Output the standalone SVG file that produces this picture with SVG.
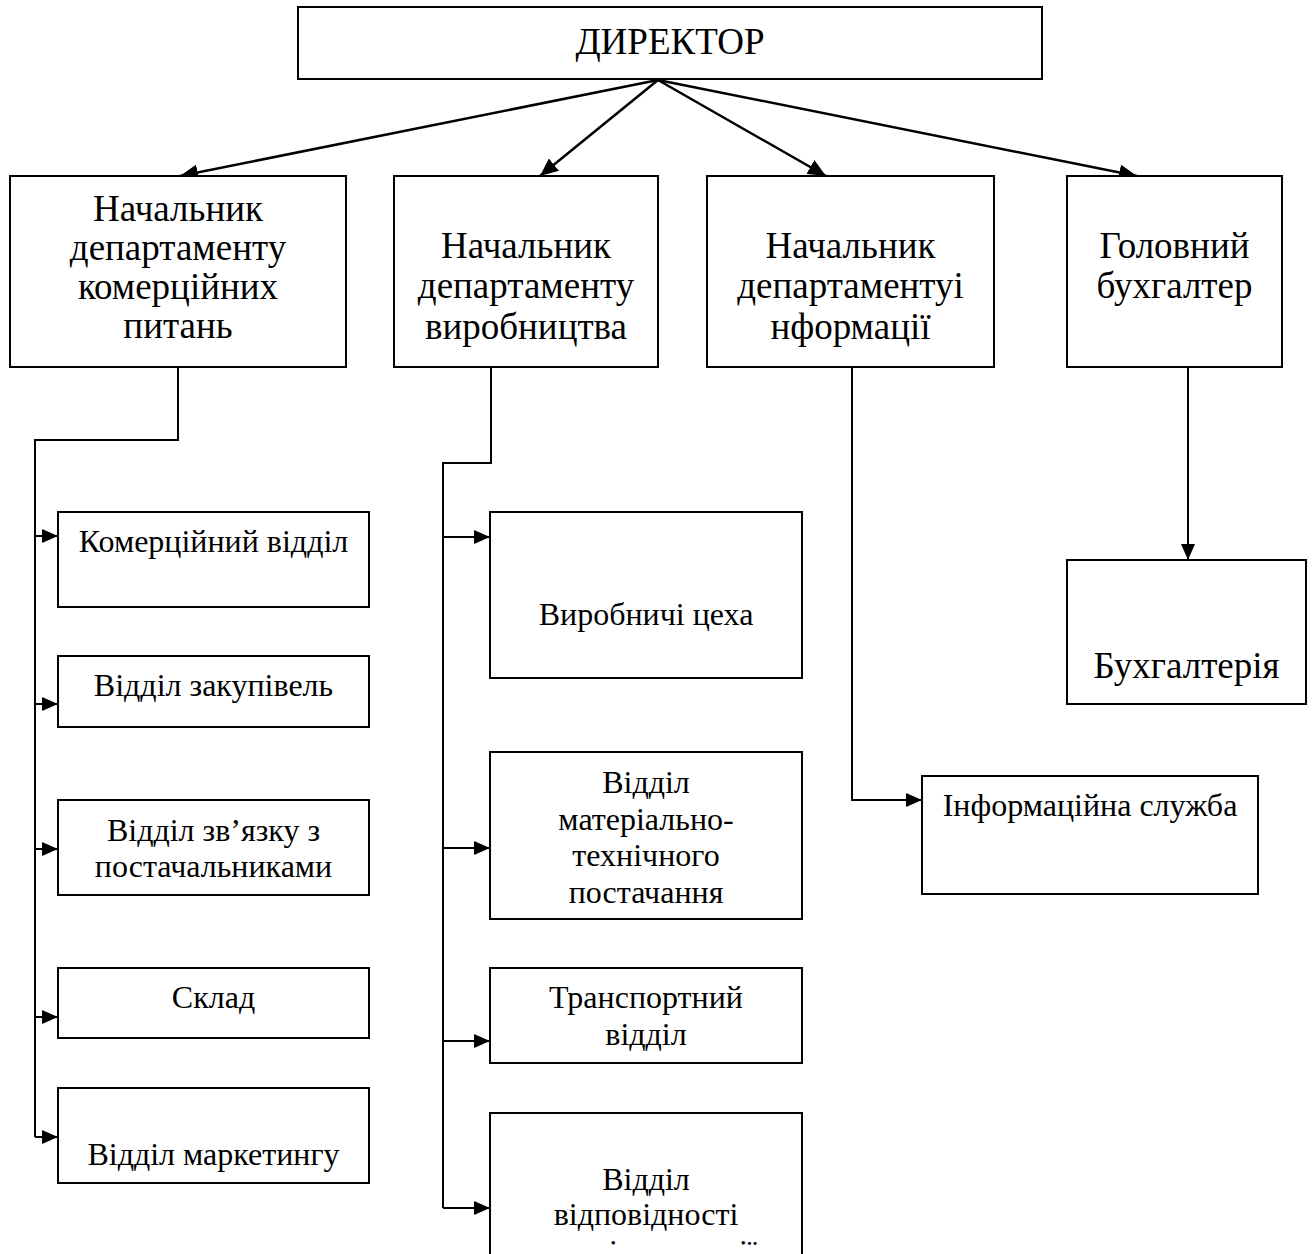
<svg xmlns="http://www.w3.org/2000/svg" width="1312" height="1254" viewBox="0 0 1312 1254">
<style>
.box{fill:#fff;stroke:#000;stroke-width:2}
.c{fill:none;stroke:#000;stroke-width:2}
.d{fill:none;stroke:#000;stroke-width:2.5}
text{font-family:"Liberation Serif","Times New Roman",serif;fill:#000;text-anchor:middle}
.h{font-size:37px}
.s{font-size:32px}
</style>
<defs>
<marker id="ah" markerUnits="userSpaceOnUse" markerWidth="20" markerHeight="16" refX="18" refY="8" orient="auto">
<path d="M0,0 L18,8 L0,16 z" fill="#000"/>
</marker>
<marker id="as" markerUnits="userSpaceOnUse" markerWidth="18" markerHeight="14" refX="16" refY="7" orient="auto">
<path d="M0,0 L16,7 L0,14 z" fill="#000"/>
</marker>
<clipPath id="cut"><rect x="480" y="1100" width="340" height="147"/></clipPath>
</defs>
<rect width="1312" height="1254" fill="#fff"/>
<g id="connectors">
<line class="d" x1="658" y1="80" x2="180" y2="176" marker-end="url(#ah)"/>
<line class="d" x1="658" y1="80" x2="540" y2="176" marker-end="url(#ah)"/>
<line class="d" x1="658" y1="80" x2="826" y2="176" marker-end="url(#ah)"/>
<line class="d" x1="658" y1="80" x2="1137" y2="176" marker-end="url(#ah)"/>
<polyline class="c" points="178,367 178,440 35,440 35,1137"/>
<line class="c" x1="35" y1="536" x2="58" y2="536" marker-end="url(#as)"/>
<line class="c" x1="35" y1="704" x2="58" y2="704" marker-end="url(#as)"/>
<line class="c" x1="35" y1="849" x2="58" y2="849" marker-end="url(#as)"/>
<line class="c" x1="35" y1="1017" x2="58" y2="1017" marker-end="url(#as)"/>
<line class="c" x1="35" y1="1137" x2="58" y2="1137" marker-end="url(#as)"/>
<polyline class="c" points="491,367 491,463 443,463 443,1208"/>
<line class="c" x1="443" y1="537" x2="490" y2="537" marker-end="url(#as)"/>
<line class="c" x1="443" y1="848" x2="490" y2="848" marker-end="url(#as)"/>
<line class="c" x1="443" y1="1041" x2="490" y2="1041" marker-end="url(#as)"/>
<line class="c" x1="443" y1="1208" x2="490" y2="1208" marker-end="url(#as)"/>
<polyline class="c" points="852,367 852,800 922,800" marker-end="url(#as)"/>
<line class="c" x1="1188" y1="367" x2="1188" y2="560" marker-end="url(#as)"/>
</g>
<g id="director"><rect class="box" x="298" y="7" width="744" height="72"/><text class="h" x="670" y="54">ДИРЕКТОР</text></g>
<g id="head-commerce"><rect class="box" x="10" y="176" width="336" height="191"/>
<text class="h" x="178" y="221">Начальник</text><text class="h" x="178" y="260">департаменту</text><text class="h" x="178" y="299">комерційних</text><text class="h" x="178" y="338">питань</text></g>
<g id="head-production"><rect class="box" x="394" y="176" width="264" height="191"/>
<text class="h" x="526" y="258">Начальник</text><text class="h" x="526" y="298">департаменту</text><text class="h" x="526" y="339">виробництва</text></g>
<g id="head-info"><rect class="box" x="707" y="176" width="287" height="191"/>
<text class="h" x="850.5" y="258">Начальник</text><text class="h" x="850.5" y="298">департаментуі</text><text class="h" x="850.5" y="339">нформації</text></g>
<g id="head-accountant"><rect class="box" x="1067" y="176" width="215" height="191"/>
<text class="h" x="1174.5" y="258">Головний</text><text class="h" x="1174.5" y="298">бухгалтер</text></g>
<g id="commercial"><rect class="box" x="58" y="512" width="311" height="95"/><text class="s" x="213.5" y="552">Комерційний відділ</text></g>
<g id="purchasing"><rect class="box" x="58" y="656" width="311" height="71"/><text class="s" x="213.5" y="696">Відділ закупівель</text></g>
<g id="suppliers"><rect class="box" x="58" y="800" width="311" height="95"/><text class="s" x="213.5" y="841">Відділ зв’язку з</text><text class="s" x="213.5" y="877">постачальниками</text></g>
<g id="warehouse"><rect class="box" x="58" y="968" width="311" height="70"/><text class="s" x="213.5" y="1008">Склад</text></g>
<g id="marketing"><rect class="box" x="58" y="1088" width="311" height="95"/><text class="s" x="213.5" y="1165">Відділ маркетингу</text></g>
<g id="workshops"><rect class="box" x="490" y="512" width="312" height="166"/><text class="s" x="646" y="625">Виробничі цеха</text></g>
<g id="supply"><rect class="box" x="490" y="752" width="312" height="167"/>
<text class="s" x="646" y="793">Відділ</text><text class="s" x="646" y="830">матеріально-</text><text class="s" x="646" y="866">технічного</text><text class="s" x="646" y="903">постачання</text></g>
<g id="transport"><rect class="box" x="490" y="968" width="312" height="95"/><text class="s" x="646" y="1008">Транспортний</text><text class="s" x="646" y="1045">відділ</text></g>
<g id="compliance"><rect class="box" x="490" y="1113" width="312" height="160"/>
<text class="s" x="646" y="1190">Відділ</text><text class="s" x="646" y="1225">відповідності</text><text class="s" x="646" y="1262" clip-path="url(#cut)">якості продукції</text></g>
<g id="accounting"><rect class="box" x="1067" y="560" width="239" height="144"/><text class="h" x="1186.5" y="678">Бухгалтерія</text></g>
<g id="info-service"><rect class="box" x="922" y="776" width="336" height="118"/><text class="s" x="1090" y="816">Інформаційна служба</text></g>
</svg>
